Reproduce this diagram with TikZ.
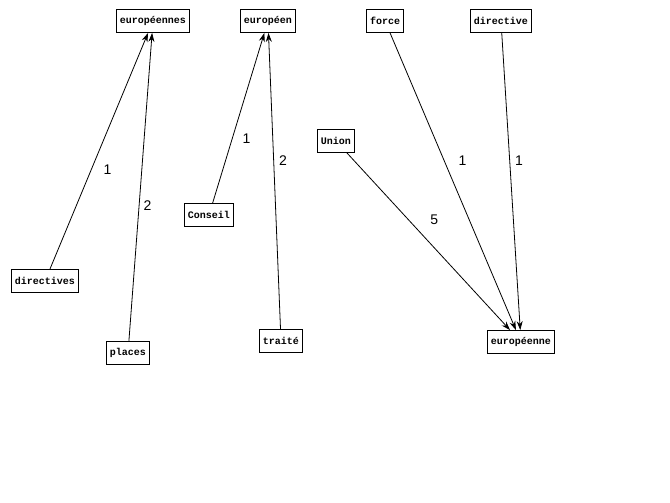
\documentclass[tikz,border=0pt]{standalone}
\usepackage{fontspec}
\setmainfont{Liberation Sans}
\setmonofont{Liberation Mono}
\usepackage{tikz}
\usetikzlibrary{arrows.meta,positioning}

\begin{document}
\begin{tikzpicture}[x=1pt, y=-1pt, >={Stealth[length=9pt,width=6pt]},
    word/.style={draw, line width=0.8pt, fill=white, inner xsep=3.5pt, minimum height=23pt, font=\fontsize{10}{11}\ttfamily\bfseries},
    weight/.style={font=\fontsize{14}{15}\selectfont, inner sep=1pt}]
    \useasboundingbox (0,0) rectangle (670,503);

    % Words (targets on top row)
    \node[word] (europeennes) at (153,21) {européennes};
    \node[word] (europeen)    at (268,21) {européen};
    \node[word] (force)       at (385,21) {force};
    \node[word] (directive)   at (501,21) {directive};

    % Words (sources)
    \node[word] (union)       at (336,141) {Union};
    \node[word] (conseil)     at (209,215) {Conseil};
    \node[word] (directives)  at (45,281)  {directives};
    \node[word] (places)      at (128,353) {places};
    \node[word] (traite)      at (281,341) {traité};
    \node[word] (europeenne)  at (521,342) {européenne};

    % Links with weights
    \draw[->, line width=0.8pt] (directives) -- (europeennes) node[weight, pos=0.42, right=11pt] {1};
    \draw[->, line width=0.8pt] (places) -- (europeennes) node[weight, pos=0.44, right=3pt] {2};
    \draw[->, line width=0.8pt] (conseil) -- (europeen) node[weight, pos=0.38, right=9pt] {1};
    \draw[->, line width=0.8pt] (traite) -- (europeen) node[weight, pos=0.57, right=4pt] {2};
    \draw[->, line width=0.8pt] (union) -- (europeenne) node[weight, pos=0.38, right=20pt] {5};
    \draw[->, line width=0.8pt] (force) -- (europeenne) node[weight, pos=0.43, right=13pt] {1};
    \draw[->, line width=0.8pt] (directive) -- (europeenne) node[weight, pos=0.43, right=4pt] {1};
\end{tikzpicture}
\end{document}
